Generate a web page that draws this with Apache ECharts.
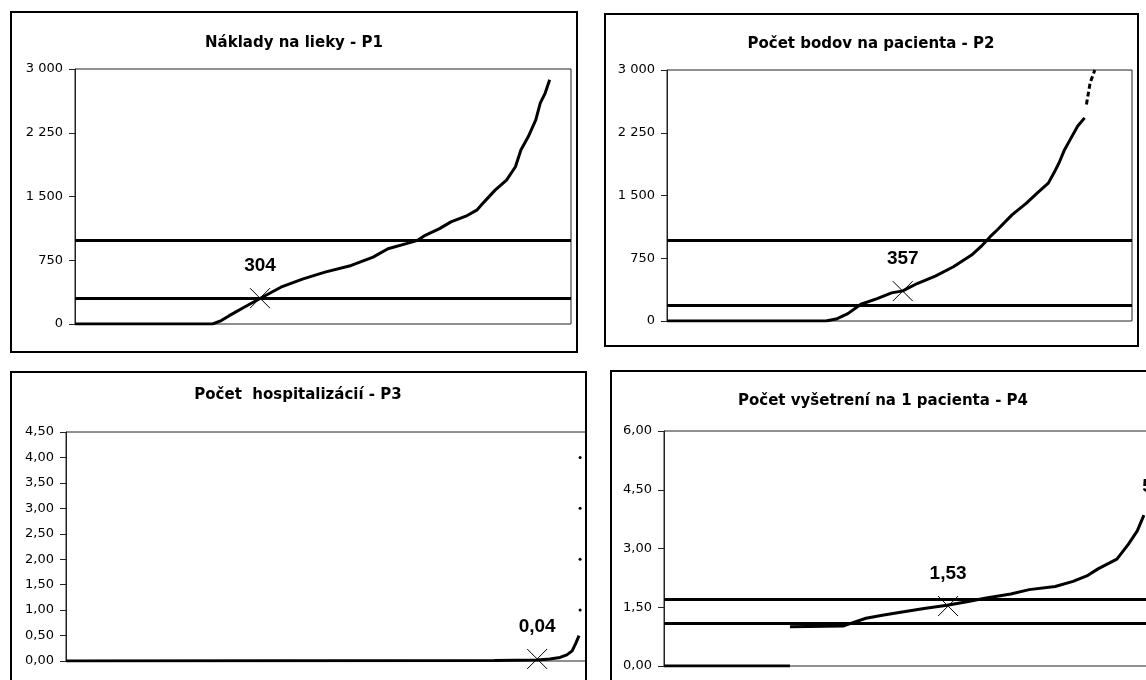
<!DOCTYPE html>
<html>
<head>
<meta charset="utf-8">
<script src="https://cdn.jsdelivr.net/npm/echarts@6/dist/echarts.min.js"></script>
<style>
html,body{margin:0;padding:0;background:#fff;overflow:hidden;}
#c{width:1200px;height:720px;}
</style>
</head>
<body>
<div id="c"></div>
<script>
// ---- Titles ----
const titles = ['Náklady na lieky - P1', 'Počet bodov na pacienta - P2', 'Počet  hospitalizácií - P3', 'Počet vyšetrení na 1 pacienta - P4'];

// ---- P1: Náklady na lieky (rank % of patients, value) ----
const p1Rank  = [0, 27.7, 29.5, 31.1, 34.1, 37.3, 41.5, 46.0, 50.4, 55.7, 60.1, 63.1, 66.8, 69.1, 70.6, 73.5, 75.8, 78.8, 81.0, 82.5, 84.7, 87.0, 88.8, 89.9, 91.4, 92.9, 93.8, 94.8, 95.7];
const p1Value = [0, 0, 40, 98, 197, 300, 433, 531, 610, 689, 787, 886, 945, 984, 1043, 1122, 1201, 1268, 1339, 1437, 1575, 1693, 1850, 2047, 2205, 2402, 2598, 2717, 2874];
const p1Lines = [985, 304];
const p1Mark = [37.3, 304];
const p1Label = '304';
const p1Ticks = [0, 750, 1500, 2250, 3000];

// ---- P2: Počet bodov na pacienta ----
const p2Rank  = [0, 34.2, 36.6, 38.9, 41.7, 45.2, 48.3, 50.7, 53.8, 57.7, 61.6, 65.5, 67.5, 69.5, 71.0, 74.2, 77.3, 79.6, 82.0, 83.2, 84.3, 85.5, 86.7, 88.3, 89.8];
const p2Value = [0, 0, 28, 88, 200, 268, 336, 360, 448, 536, 648, 788, 888, 1008, 1088, 1268, 1408, 1528, 1648, 1768, 1888, 2048, 2168, 2328, 2428];
const p2TopRank  = [90.2, 91.0, 92.0];
const p2TopValue = [2588, 2848, 3000];
const p2Lines = [968, 190];
const p2Mark = [50.7, 357];
const p2Label = '357';
const p2Ticks = [0, 750, 1500, 2250, 3000];

// ---- P3: Počet hospitalizácií ----
const p3Rank  = [0, 80.8, 88.9, 91.3, 93.2, 94.5, 95.5, 96.2, 96.8];
const p3Value = [0, 0.01, 0.02, 0.04, 0.07, 0.12, 0.2, 0.35, 0.5];
const p3DotRank  = [97.0, 97.0, 97.0, 97.0];
const p3DotValue = [1, 2, 3, 4];
const p3Mark = [88.9, 0.04];
const p3Label = '0,04';
const p3Ticks = [0, 0.5, 1, 1.5, 2, 2.5, 3, 3.5, 4, 4.5];

// ---- P4: Počet vyšetrení na 1 pacienta ----
const p4ZeroRank  = [0, 24.7];
const p4ZeroValue = [0, 0];
const p4Rank  = [24.7, 35.1, 36.9, 39.6, 43.1, 46.7, 51.0, 55.5, 59.4, 62.9, 68.0, 71.6, 76.7, 80.2, 82.9, 85.1, 88.8, 91.0, 92.8, 94.1];
const p4Value = [1.00, 1.02, 1.10, 1.22, 1.30, 1.38, 1.47, 1.55, 1.64, 1.73, 1.84, 1.95, 2.03, 2.16, 2.30, 2.48, 2.73, 3.10, 3.45, 3.85];
const p4Lines = [1.71, 1.09];
const p4Mark = [55.7, 1.53];
const p4Label = '1,53';
const p4EdgeLabelPos = [97.4, 4.57];
const p4EdgeLabel = '5,00';
const p4Ticks = [0, 1.5, 3, 4.5, 6];

// ---- helpers ----
const zip = (a, b) => a.map((v, i) => [v, b[i]]);
const fmtThousands = v => String(Math.round(v)).replace(/\B(?=(\d{3})+(?!\d))/g, ' ');
const fmtDec = v => v.toFixed(2).replace('.', ',');

const FONT = 'DejaVu Sans';
const grids = [
  {left: 75,  top: 69,  width: 496, height: 255},
  {left: 667, top: 70,  width: 465, height: 251},
  {left: 66,  top: 432, width: 530, height: 229},
  {left: 664, top: 431, width: 510, height: 235}
];
const tickSets = [p1Ticks, p2Ticks, p3Ticks, p4Ticks];
const fmts = [fmtThousands, fmtThousands, fmtDec, fmtDec];

const option = {
  animation: false,
  backgroundColor: '#fff',
  grid: grids.map(g => Object.assign({show: true, borderColor: '#222', borderWidth: 1, backgroundColor: '#fff', containLabel: false}, g)),
  xAxis: grids.map((g, i) => ({type: 'value', gridIndex: i, min: 0, max: 100, show: false})),
  yAxis: grids.map((g, i) => {
    const t = tickSets[i];
    return {
      type: 'value', gridIndex: i, min: t[0], max: t[t.length - 1], interval: t[1] - t[0],
      axisLine: {show: true, lineStyle: {color: '#222', width: 1}},
      axisTick: {show: true, length: 6, lineStyle: {color: '#222'}},
      splitLine: {show: false},
      axisLabel: {margin: 12, color: '#000', fontFamily: FONT, fontSize: 13, formatter: fmts[i]}
    };
  }),
  series: []
};

const curveStyle = {color: '#000', width: 3};
function curve(idx, rank, value, extra) {
  return Object.assign({
    type: 'line', xAxisIndex: idx, yAxisIndex: idx, data: zip(rank, value),
    showSymbol: false, symbol: 'none', lineStyle: curveStyle, itemStyle: {color: '#000'}, z: 3
  }, extra || {});
}
function refLines(idx, vals) {
  return {
    type: 'line', xAxisIndex: idx, yAxisIndex: idx, data: [], z: 2,
    markLine: {silent: true, symbol: 'none', label: {show: false}, animation: false,
      lineStyle: {color: '#000', width: 3, type: 'solid'},
      data: vals.map(v => ({yAxis: v}))}
  };
}
const markLabelStyle = {fontFamily: 'Liberation Sans', fontWeight: 'bold', fontSize: 19, color: '#000', textBorderWidth: 0, textBorderColor: 'transparent', opacity: 1};
function marker(idx, pt, text) {
  return {
    type: 'scatter', xAxisIndex: idx, yAxisIndex: idx, data: [pt], z: 5,
    symbol: 'path://M0,0L10,10M10,0L0,10', symbolSize: 20,
    itemStyle: {color: 'none', borderColor: '#000', borderWidth: 1, opacity: 1},
    label: Object.assign({show: true, position: 'inside', offset: [0, -32], formatter: text}, markLabelStyle)
  };
}

option.series.push(
  refLines(0, p1Lines), curve(0, p1Rank, p1Value), marker(0, p1Mark, p1Label),
  refLines(1, p2Lines), curve(1, p2Rank, p2Value),
  curve(1, p2TopRank, p2TopValue, {lineStyle: {color: '#000', width: 3, type: [5, 3]}}),
  marker(1, p2Mark, p2Label),
  curve(2, p3Rank, p3Value),
  {type: 'scatter', xAxisIndex: 2, yAxisIndex: 2, data: zip(p3DotRank, p3DotValue), symbolSize: 3, itemStyle: {color: '#000', opacity: 1}, z: 4},
  marker(2, p3Mark, p3Label),
  refLines(3, p4Lines), curve(3, p4ZeroRank, p4ZeroValue), curve(3, p4Rank, p4Value),
  marker(3, p4Mark, p4Label),
  {type: 'scatter', xAxisIndex: 3, yAxisIndex: 3, data: [p4EdgeLabelPos], symbolSize: 0, z: 5, itemStyle: {opacity: 1},
   label: Object.assign({show: true, position: 'inside', formatter: p4EdgeLabel}, markLabelStyle)}
);

const titlePos = [[294, 43], [871, 44], [298, 395], [883, 401]];
option.graphic = [
  {type: 'rect', z: 90, silent: true, shape: {x: 587, y: 372, width: 23, height: 360}, style: {fill: '#fff', stroke: null}},
  {type: 'rect', z: 100, silent: true, shape: {x: 11, y: 12, width: 566, height: 340}, style: {fill: 'none', stroke: '#000', lineWidth: 2}},
  {type: 'rect', z: 100, silent: true, shape: {x: 605, y: 14, width: 533, height: 332}, style: {fill: 'none', stroke: '#000', lineWidth: 2}},
  {type: 'rect', z: 100, silent: true, shape: {x: 11, y: 372, width: 575, height: 360}, style: {fill: 'none', stroke: '#000', lineWidth: 2}},
  {type: 'rect', z: 100, silent: true, shape: {x: 611, y: 371, width: 600, height: 360}, style: {fill: 'none', stroke: '#000', lineWidth: 2}}
].concat(titles.map((t, i) => ({
  type: 'text', z: 100, silent: true, x: titlePos[i][0], y: titlePos[i][1],
  style: {text: t, fill: '#000', font: 'bold 15px "' + FONT + '"', align: 'center', verticalAlign: 'middle'}
})));

const chart = echarts.init(document.getElementById('c'), null, {renderer: 'canvas'});
chart.setOption(option);
</script>
</body>
</html>
